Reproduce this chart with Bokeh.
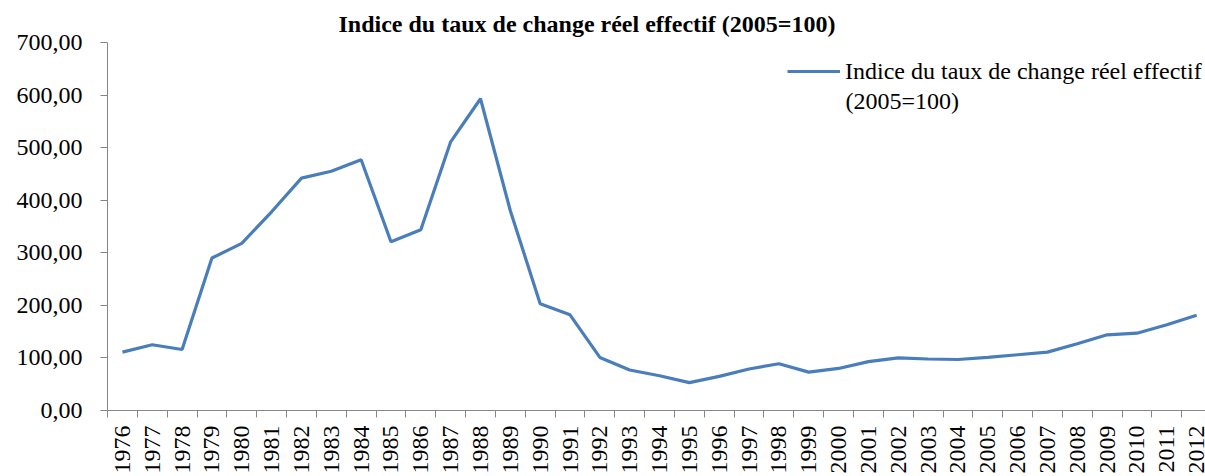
import math
from bokeh.plotting import figure
from bokeh.models import Range1d, FixedTicker, Legend, LegendItem, Label
from bokeh.embed import file_html
from bokeh.resources import INLINE

# ---- data ----
years = list(range(1976, 2013))
values = [111, 125, 116, 290, 318, 378, 442, 455, 477, 321,
          344, 511, 593, 380, 203, 182, 101, 77, 66, 53,
          65, 79, 89, 73, 80, 93, 100, 98, 97, 101,
          106, 111, 127, 144, 147, 163, 181]
y_ticks = [0, 100, 200, 300, 400, 500, 600, 700]
y_tick_labels = ["0,00", "100,00", "200,00", "300,00", "400,00", "500,00", "600,00", "700,00"]
year_labels = [str(y) for y in years]
title_text = "Indice du taux de change réel effectif (2005=100)"
series_line1 = "Indice du taux de change réel effectif"
series_line2 = "(2005=100)"

# ---- style ----
FONT = "Liberation Serif"
AXIS = "#868686"
BLUE = "#4A7EBB"
W, H = 1205, 476
LB, TB, BB, RB = 107, 42, 66, 0
frame_w = W - LB - RB
step = 29.84
x_start = years[0] - 0.5
x_end = x_start + frame_w / step

p = figure(width=W, height=H, output_backend="svg", toolbar_location=None,
           x_range=Range1d(x_start, x_end), y_range=Range1d(0, 700),
           min_border_left=LB, min_border_top=TB, min_border_bottom=BB,
           min_border_right=RB)
p.outline_line_color = None
p.grid.visible = False
p.background_fill_color = "white"
p.border_fill_color = "white"

p.title.text = title_text
p.title.align = "left"
p.title.offset = 231
p.title.text_font = FONT
p.title.text_font_size = "24px"
p.title.text_font_style = "bold"
p.title.text_color = "black"
p.title.standoff = 12

ya = p.yaxis[0]
ya.ticker = FixedTicker(ticks=y_ticks)
ya.major_label_overrides = {t: l for t, l in zip(y_ticks, y_tick_labels)}
ya.axis_line_color = AXIS
ya.major_tick_line_color = AXIS
ya.major_tick_out = 7
ya.major_tick_in = 0
ya.minor_tick_line_color = None
ya.major_label_text_font = FONT
ya.major_label_text_font_size = "24px"
ya.major_label_text_color = "black"
ya.major_label_standoff = 18

xa = p.xaxis[0]
xa.ticker = FixedTicker(ticks=years, minor_ticks=[y - 0.5 for y in years] + [years[-1] + 0.5])
xa.major_label_overrides = {y: l for y, l in zip(years, year_labels)}
xa.axis_line_color = AXIS
xa.major_tick_line_color = None
xa.major_tick_out = 0
xa.major_tick_in = 0
xa.minor_tick_line_color = AXIS
xa.minor_tick_out = 7
xa.minor_tick_in = 0
xa.major_label_orientation = math.pi / 2
xa.major_label_text_font = FONT
xa.major_label_text_font_size = "24px"
xa.major_label_text_color = "black"
xa.major_label_standoff = 8

r = p.line(years, values, line_color=BLUE, line_width=3.2)

legend = Legend(items=[LegendItem(label=series_line1, renderers=[r])],
                location=(680, 324), padding=0, margin=0, spacing=0,
                glyph_width=53, glyph_height=30, label_height=30, label_standoff=5,
                label_text_font=FONT, label_text_font_size="24px",
                label_text_color="black", border_line_color=None,
                background_fill_alpha=0)
p.add_layout(legend)

p.add_layout(Label(x=738, y=310, x_units="screen", y_units="screen",
                   text=series_line2, text_font=FONT, text_font_size="24px",
                   text_color="black", text_baseline="middle", text_align="left"))

with open("out.html", "w", encoding="utf-8") as f:
    f.write(file_html(p, INLINE))
